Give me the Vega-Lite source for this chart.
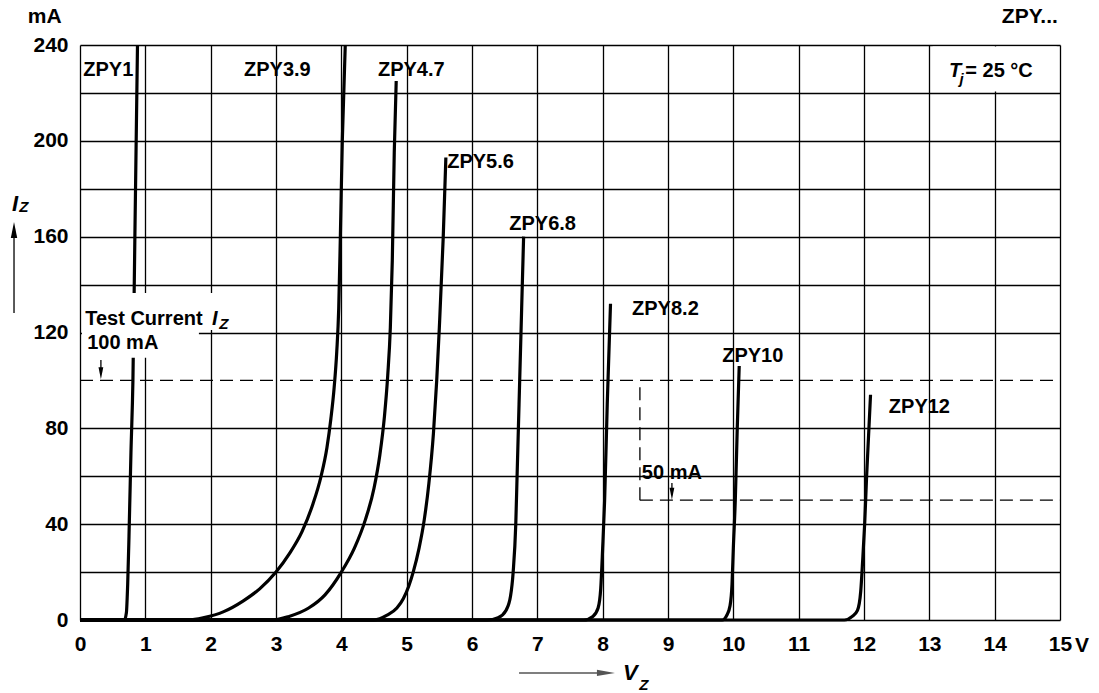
{
  "$schema": "https://vega.github.io/schema/vega-lite/v6.json",
  "width": 980,
  "height": 575,
  "autosize": {"type": "none"},
  "padding": {"left": 80, "top": 45, "right": 39, "bottom": 73},
  "config": {"view": {"stroke": null}, "font": "Liberation Sans"},
  "datasets": {
    "curves": [
      {"curve": "ZPY1", "V": 0, "I": 0}, {"curve": "ZPY1", "V": 0.68, "I": 0}, {"curve": "ZPY1", "V": 0.71, "I": 3}, {"curve": "ZPY1", "V": 0.73, "I": 15}, {"curve": "ZPY1", "V": 0.75, "I": 35}, {"curve": "ZPY1", "V": 0.78, "I": 70}, {"curve": "ZPY1", "V": 0.81, "I": 100}, {"curve": "ZPY1", "V": 0.84, "I": 160}, {"curve": "ZPY1", "V": 0.88, "I": 240},
      {"curve": "ZPY3.9", "V": 0, "I": 0}, {"curve": "ZPY3.9", "V": 1.66, "I": 0}, {"curve": "ZPY3.9", "V": 1.9, "I": 1}, {"curve": "ZPY3.9", "V": 2.2, "I": 3.5}, {"curve": "ZPY3.9", "V": 2.5, "I": 8}, {"curve": "ZPY3.9", "V": 2.75, "I": 13}, {"curve": "ZPY3.9", "V": 3.0, "I": 20}, {"curve": "ZPY3.9", "V": 3.2, "I": 27.5}, {"curve": "ZPY3.9", "V": 3.4, "I": 37}, {"curve": "ZPY3.9", "V": 3.56, "I": 48}, {"curve": "ZPY3.9", "V": 3.69, "I": 60}, {"curve": "ZPY3.9", "V": 3.78, "I": 72}, {"curve": "ZPY3.9", "V": 3.84, "I": 84}, {"curve": "ZPY3.9", "V": 3.89, "I": 97}, {"curve": "ZPY3.9", "V": 3.93, "I": 112}, {"curve": "ZPY3.9", "V": 3.96, "I": 130}, {"curve": "ZPY3.9", "V": 3.985, "I": 160}, {"curve": "ZPY3.9", "V": 4.015, "I": 200}, {"curve": "ZPY3.9", "V": 4.06, "I": 240},
      {"curve": "ZPY4.7", "V": 0, "I": 0}, {"curve": "ZPY4.7", "V": 2.95, "I": 0}, {"curve": "ZPY4.7", "V": 3.2, "I": 1.5}, {"curve": "ZPY4.7", "V": 3.5, "I": 5}, {"curve": "ZPY4.7", "V": 3.75, "I": 10.5}, {"curve": "ZPY4.7", "V": 4.0, "I": 20}, {"curve": "ZPY4.7", "V": 4.2, "I": 30}, {"curve": "ZPY4.7", "V": 4.37, "I": 42}, {"curve": "ZPY4.7", "V": 4.5, "I": 55}, {"curve": "ZPY4.7", "V": 4.59, "I": 69}, {"curve": "ZPY4.7", "V": 4.66, "I": 85}, {"curve": "ZPY4.7", "V": 4.71, "I": 102}, {"curve": "ZPY4.7", "V": 4.75, "I": 122}, {"curve": "ZPY4.7", "V": 4.78, "I": 150}, {"curve": "ZPY4.7", "V": 4.81, "I": 195}, {"curve": "ZPY4.7", "V": 4.84, "I": 225},
      {"curve": "ZPY5.6", "V": 0, "I": 0}, {"curve": "ZPY5.6", "V": 4.5, "I": 0}, {"curve": "ZPY5.6", "V": 4.7, "I": 2}, {"curve": "ZPY5.6", "V": 4.85, "I": 5}, {"curve": "ZPY5.6", "V": 4.95, "I": 9}, {"curve": "ZPY5.6", "V": 5.03, "I": 14}, {"curve": "ZPY5.6", "V": 5.1, "I": 20}, {"curve": "ZPY5.6", "V": 5.19, "I": 30}, {"curve": "ZPY5.6", "V": 5.27, "I": 42}, {"curve": "ZPY5.6", "V": 5.34, "I": 57}, {"curve": "ZPY5.6", "V": 5.41, "I": 78}, {"curve": "ZPY5.6", "V": 5.46, "I": 100}, {"curve": "ZPY5.6", "V": 5.5, "I": 122}, {"curve": "ZPY5.6", "V": 5.56, "I": 160}, {"curve": "ZPY5.6", "V": 5.6, "I": 193},
      {"curve": "ZPY6.8", "V": 0, "I": 0}, {"curve": "ZPY6.8", "V": 6.23, "I": 0}, {"curve": "ZPY6.8", "V": 6.4, "I": 1}, {"curve": "ZPY6.8", "V": 6.52, "I": 4}, {"curve": "ZPY6.8", "V": 6.59, "I": 10}, {"curve": "ZPY6.8", "V": 6.63, "I": 20}, {"curve": "ZPY6.8", "V": 6.67, "I": 40}, {"curve": "ZPY6.8", "V": 6.69, "I": 60}, {"curve": "ZPY6.8", "V": 6.71, "I": 80}, {"curve": "ZPY6.8", "V": 6.73, "I": 100}, {"curve": "ZPY6.8", "V": 6.76, "I": 130}, {"curve": "ZPY6.8", "V": 6.79, "I": 160},
      {"curve": "ZPY8.2", "V": 0, "I": 0}, {"curve": "ZPY8.2", "V": 7.71, "I": 0}, {"curve": "ZPY8.2", "V": 7.85, "I": 1.5}, {"curve": "ZPY8.2", "V": 7.93, "I": 5}, {"curve": "ZPY8.2", "V": 7.97, "I": 13}, {"curve": "ZPY8.2", "V": 8.0, "I": 30}, {"curve": "ZPY8.2", "V": 8.03, "I": 50}, {"curve": "ZPY8.2", "V": 8.07, "I": 90}, {"curve": "ZPY8.2", "V": 8.12, "I": 132},
      {"curve": "ZPY10", "V": 0, "I": 0}, {"curve": "ZPY10", "V": 9.83, "I": 0}, {"curve": "ZPY10", "V": 9.9, "I": 2}, {"curve": "ZPY10", "V": 9.95, "I": 6}, {"curve": "ZPY10", "V": 9.98, "I": 15}, {"curve": "ZPY10", "V": 10.0, "I": 30}, {"curve": "ZPY10", "V": 10.03, "I": 50}, {"curve": "ZPY10", "V": 10.06, "I": 80}, {"curve": "ZPY10", "V": 10.09, "I": 106},
      {"curve": "ZPY12", "V": 0, "I": 0}, {"curve": "ZPY12", "V": 11.7, "I": 0}, {"curve": "ZPY12", "V": 11.82, "I": 1.5}, {"curve": "ZPY12", "V": 11.9, "I": 4}, {"curve": "ZPY12", "V": 11.95, "I": 12}, {"curve": "ZPY12", "V": 11.98, "I": 25}, {"curve": "ZPY12", "V": 12.01, "I": 40}, {"curve": "ZPY12", "V": 12.04, "I": 60}, {"curve": "ZPY12", "V": 12.1, "I": 94}
    ],
    "masks": [
      {"V": 0.03, "V2": 1.82, "I": 109.5, "I2": 136.5},
      {"V": 1.82, "V2": 2.32, "I": 121, "I2": 136.5},
      {"V": 13.05, "V2": 14.95, "I": 220.6, "I2": 239.4}
    ],
    "dashes": [
      {"V": 0, "V2": 15, "I": 100, "I2": 100},
      {"V": 8.57, "V2": 8.57, "I": 50, "I2": 100},
      {"V": 8.57, "V2": 15, "I": 50, "I2": 50}
    ],
    "shafts": [
      {"V": 0.32, "V2": 0.32, "I": 108.5, "I2": 103},
      {"V": 9.06, "V2": 9.06, "I": 57.2, "I2": 54},
      {"V": -1.01, "V2": -1.01, "I": 128.1, "I2": 161}
    ],
    "xshaft": [{"V": 6.72, "V2": 7.95, "I": -22.1, "I2": -22.1}],
    "headsDown": [{"V": 0.32, "I": 103}, {"V": 9.06, "I": 52.7}],
    "headsUp": [{"V": -1.01, "I": 162.8}],
    "headsRight": [{"V": 8.05, "I": -22.1}],
    "labels": [
      {"t": "ZPY1", "V": 0.05, "I": 227},
      {"t": "ZPY3.9", "V": 2.51, "I": 227},
      {"t": "ZPY4.7", "V": 4.56, "I": 227},
      {"t": "ZPY5.6", "V": 5.62, "I": 188.7},
      {"t": "ZPY6.8", "V": 6.57, "I": 162.8},
      {"t": "ZPY8.2", "V": 8.45, "I": 127.3},
      {"t": "ZPY10", "V": 9.83, "I": 107.7},
      {"t": "ZPY12", "V": 12.38, "I": 86.4},
      {"t": "Test Current", "V": 0.08, "I": 123.1},
      {"t": "100 mA", "V": 0.11, "I": 113.1},
      {"t": "50 mA", "V": 8.6, "I": 58.9},
      {"t": "= 25 °C", "V": 13.55, "I": 226.6}
    ],
    "big": [
      {"t": "mA", "V": -0.8, "I": 249.2},
      {"t": "ZPY...", "V": 14.11, "I": 249.2},
      {"t": "V", "V": 15.23, "I": -13.4}
    ],
    "ital": [
      {"t": "I", "V": 2.02, "I": 123.1},
      {"t": "T", "V": 13.3, "I": 226.6}
    ],
    "italBig": [
      {"t": "I", "V": -1.04, "I": 170.7},
      {"t": "V", "V": 8.31, "I": -25}
    ],
    "subs": [
      {"t": "Z", "V": 2.13, "I": 121.3},
      {"t": "j", "V": 13.46, "I": 223.7},
      {"t": "Z", "V": -0.93, "I": 170.1},
      {"t": "Z", "V": 8.56, "I": -29.2}
    ]
  },
  "encoding": {
    "x": {"field": "V", "type": "quantitative", "scale": {"domain": [0, 15], "nice": false, "zero": false},
      "axis": {"values": [0,1,2,3,4,5,6,7,8,9,10,11,12,13,14,15], "title": null, "grid": true, "gridColor": "#000", "gridWidth": 1.3, "gridOpacity": 1, "domain": false, "ticks": false, "labelFont": "Liberation Sans", "labelFontSize": 21, "labelFontWeight": "bold", "labelColor": "#000", "labelPadding": 13, "labelFlush": false, "labelOverlap": false}},
    "y": {"field": "I", "type": "quantitative", "scale": {"domain": [0, 240], "nice": false, "zero": false},
      "axis": {"values": [0,20,40,60,80,120,140,160,180,200,220,240], "labelExpr": "datum.value % 40 == 0 ? datum.label : ''", "title": null, "grid": true, "gridColor": "#000", "gridWidth": 1.3, "gridOpacity": 1, "domain": false, "ticks": false, "labelFont": "Liberation Sans", "labelFontSize": 21, "labelFontWeight": "bold", "labelColor": "#000", "labelPadding": 12, "labelFlush": false, "labelOverlap": false, "labelBaseline": "middle"}}
  },
  "layer": [
    {
      "data": {"name": "curves"},
      "mark": {"type": "line", "color": "#000", "strokeWidth": 3.2, "interpolate": "monotone"},
      "encoding": {"detail": {"field": "curve"}}
    },
    {
      "data": {"name": "masks"},
      "mark": {"type": "rect", "color": "#fff"},
      "encoding": {"x2": {"field": "V2"}, "y2": {"field": "I2"}}
    },
    {
      "data": {"name": "dashes"},
      "mark": {"type": "rule", "color": "#000", "strokeWidth": 1.3, "strokeDash": [13, 7]},
      "encoding": {"x2": {"field": "V2"}, "y2": {"field": "I2"}}
    },
    {
      "data": {"name": "shafts"},
      "mark": {"type": "rule", "color": "#000", "strokeWidth": 1.3},
      "encoding": {"x2": {"field": "V2"}, "y2": {"field": "I2"}}
    },
    {
      "data": {"name": "xshaft"},
      "mark": {"type": "rule", "color": "#555", "strokeWidth": 1.5},
      "encoding": {"x2": {"field": "V2"}, "y2": {"field": "I2"}}
    },
    {
      "data": {"name": "headsDown"},
      "mark": {"type": "point", "shape": "M-0.4,-1L0.4,-1L0,1Z", "size": 144, "filled": true, "color": "#000", "opacity": 1}
    },
    {
      "data": {"name": "headsUp"},
      "mark": {"type": "point", "shape": "M-0.4,1L0.4,1L0,-1Z", "size": 256, "filled": true, "color": "#000", "opacity": 1}
    },
    {
      "data": {"name": "headsRight"},
      "mark": {"type": "point", "shape": "M-1,-0.35L1,0L-1,0.35Z", "size": 324, "filled": true, "color": "#555", "opacity": 1}
    },
    {
      "data": {"name": "labels"},
      "mark": {"type": "text", "align": "left", "baseline": "alphabetic", "font": "Liberation Sans", "fontSize": 20, "fontWeight": "bold", "color": "#000"},
      "encoding": {"text": {"field": "t"}}
    },
    {
      "data": {"name": "big"},
      "mark": {"type": "text", "align": "left", "baseline": "alphabetic", "font": "Liberation Sans", "fontSize": 21, "fontWeight": "bold", "color": "#000"},
      "encoding": {"text": {"field": "t"}}
    },
    {
      "data": {"name": "ital"},
      "mark": {"type": "text", "align": "left", "baseline": "alphabetic", "font": "Liberation Sans", "fontSize": 20, "fontWeight": "bold", "fontStyle": "italic", "color": "#000"},
      "encoding": {"text": {"field": "t"}}
    },
    {
      "data": {"name": "italBig"},
      "mark": {"type": "text", "align": "left", "baseline": "alphabetic", "font": "Liberation Sans", "fontSize": 22, "fontWeight": "bold", "fontStyle": "italic", "color": "#000"},
      "encoding": {"text": {"field": "t"}}
    },
    {
      "data": {"name": "subs"},
      "mark": {"type": "text", "align": "left", "baseline": "alphabetic", "font": "Liberation Sans", "fontSize": 15, "fontWeight": "bold", "fontStyle": "italic", "color": "#000"},
      "encoding": {"text": {"field": "t"}}
    }
  ]
}
